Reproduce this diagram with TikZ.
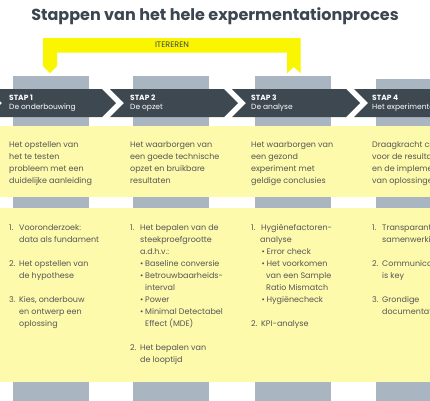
\documentclass[tikz,border=0pt]{standalone}
\usepackage{fontspec}
\setmainfont{Poppins}
\definecolor{titlecol}{RGB}{60,70,80}
\definecolor{chevcol}{RGB}{62,72,81}
\definecolor{colgray}{RGB}{169,182,193}
\definecolor{paleyel}{RGB}{254,250,172}
\definecolor{brightyel}{RGB}{250,245,0}
\definecolor{textgray}{RGB}{85,85,85}
\newcommand\itemnum[1]{\makebox[10pt][l]{#1}}
\newcommand\bulletmark{\makebox[5pt][l]{•}}
\begin{document}
\begin{tikzpicture}[x=1pt,y=-1pt,
  txt/.style={anchor=base west, inner sep=0pt, font=\fontsize{8}{12}\selectfont, text=textgray},
  steplbl/.style={anchor=base west, inner sep=0pt, font=\fontsize{7.5}{9}\selectfont\bfseries, text=white},
  stepdesc/.style={anchor=base west, inner sep=0pt, font=\fontsize{7.5}{9}\selectfont, text=white},
  chev/.style={fill=chevcol},
  column/.style={fill=colgray}]
\useasboundingbox (0,0) rectangle (430,400);
\clip (0,0) rectangle (430,400);
\fill[white] (0,0) rectangle (430,400);
% title
\node[anchor=base, inner sep=0pt, font=\fontsize{16}{19}\selectfont\bfseries, text=titlecol] (title) at (215,20.7) {Stappen van het hele expermentationproces};
% iterate bracket
\fill[brightyel] (43,66) -- (50,73) -- (57,66) -- (57,52.5) -- (287,52.5) -- (287,73.3) -- (293.7,67) -- (300.7,73.3) -- (300.7,38) -- (43,38) -- cycle;
\node[anchor=base, inner sep=0pt, font=\fontsize{8}{9}\selectfont, text=titlecol] (iter) at (172,47.7) {ITEREREN};
% gray columns
\foreach \xl/\yt in {13/76,133/76,255/76,376/79}
  \fill[column] (\xl,\yt) rectangle ++(76,330);
% yellow bands
\fill[paleyel] (0,126) rectangle (430,197);
\fill[paleyel] (0,208) rectangle (430,382);
% chevrons
\foreach \L in {-12,110,232,354}
  \fill[chev] (\L,89) -- ++(114,0) -- ++(14,14) -- ++(-14,14) -- ++(-114,0) -- ++(14,-14) -- cycle;
% step labels
\foreach \x/\k/\d in {9/1/De onderbouwing,130/2/De opzet,251/3/De analyse,372/4/Het experimenteren}{
  \node[steplbl] (s\k) at (\x,100) {STAP \k};
  \node[stepdesc] (d\k) at (\x,109.3) {\d};
}
% top texts
\foreach \y/\t [count=\n] in {145/{Het opstellen van},157/{het te testen},169/{probleem met een},181/{duidelijke aanleiding}}
  \node[txt] (ga\n) at (9,\y+2.7) {\t};
\foreach \y/\t [count=\n] in {145/{Het waarborgen van},157/{een goede technische},169/{opzet en bruikbare},181/{resultaten}}
  \node[txt] (gb\n) at (130,\y+2.7) {\t};
\foreach \y/\t [count=\n] in {145/{Het waarborgen van},157/{een gezond},169/{experiment met},181/{geldige conclusies}}
  \node[txt] (gc\n) at (251,\y+2.7) {\t};
\foreach \y/\t [count=\n] in {145/{Draagkracht creëren},157/{voor de resultaten},169/{en de implementatie},181/{van oplossingen}}
  \node[txt] (gd\n) at (372,\y+2.7) {\t};
% lists
\foreach \dx/\y/\t [count=\n] in {0/228/{\itemnum{1.}Vooronderzoek:},10/240/{data als fundament},0/264/{\itemnum{2.}Het opstellen van},10/276/{de hypothese},0/300/{\itemnum{3.}Kies, onderbouw},10/312/{en ontwerp een},10/324/{oplossing}}
  \node[txt] (la\n) at (9+\dx,\y+2.7) {\t};
\foreach \dx/\y/\t [count=\n] in {0/228/{\itemnum{1.}Het bepalen van de},10/240/{steekproefgrootte},10/252/{a.d.h.v.:},10/264/{\bulletmark Baseline conversie},10/276/{\bulletmark Betrouwbaarheids-},15/288/{interval},10/300/{\bulletmark Power},10/312/{\bulletmark Minimal Detectabel},15/324/{Effect (MDE)},0/348/{\itemnum{2.}Het bepalen van},10/360/{de looptijd}}
  \node[txt] (lb\n) at (130+\dx,\y+2.7) {\t};
\foreach \dx/\y/\t [count=\n] in {0/228/{\itemnum{1.}Hygiënefactoren-},9/240/{analyse},10.5/252/{\bulletmark Error check},10.5/264/{\bulletmark Het voorkomen},15/276/{van een Sample},15/288/{Ratio Mismatch},10.5/300/{\bulletmark Hygiënecheck},0/324/{\itemnum{2.}KPI-analyse}}
  \node[txt] (lc\n) at (251+\dx,\y+2.7) {\t};
\foreach \dx/\y/\t [count=\n] in {0/228/{\itemnum{1.}Transparantie en},10/240/{samenwerking},0/264/{\itemnum{2.}Communicatie},10/276/{is key},0/300/{\itemnum{3.}Grondige},10/312/{documentatie}}
  \node[txt] (ld\n) at (372+\dx,\y+2.7) {\t};
\end{tikzpicture}
\end{document}
